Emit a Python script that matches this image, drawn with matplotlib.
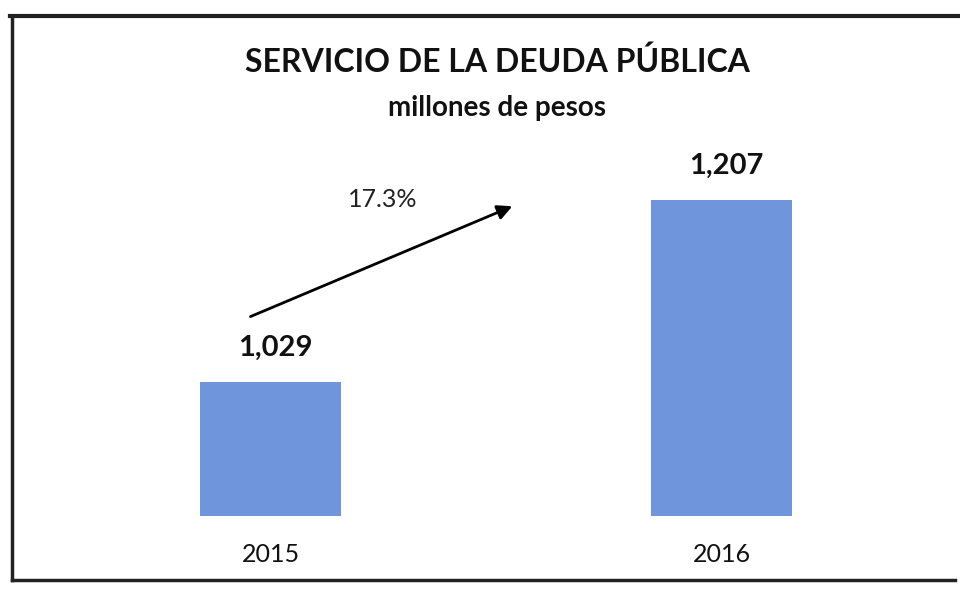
import matplotlib.pyplot as plt
from matplotlib.lines import Line2D

plt.rcParams['font.family'] = ['Lato', 'DejaVu Sans']

years = ["2015", "2016"]
values = [1029, 1207]
growth_label = "17.3%"

title = "SERVICIO DE LA DEUDA PÚBLICA"
subtitle = "millones de pesos"

bar_color = "#6f96dc"


def plot_chart():
    fig = plt.figure(figsize=(9.6, 5.94), dpi=100)

    # axes placed so bar centres land at 271 and 722 px, baseline at 516 px
    ax = fig.add_axes([100 / 960, 1 - 516 / 594, 800 / 960, (516 - 150) / 594])
    x = list(range(len(years)))
    ax.bar(x, values, width=0.313, color=bar_color)
    ax.set_xlim(-0.379, 1.395)
    ax.set_ylim(898, 1256)
    ax.axis("off")

    for xi, v in zip(x, values):
        ax.text(xi + 0.01, v + 21, f"{v:,}", ha="center", va="bottom",
                fontsize=21, fontweight="bold", color="#111111")
        ax.text(xi, 898 - 38, years[xi], ha="center", va="center",
                fontsize=18, color="#111111", clip_on=False)

    ax.annotate("", xy=(0.541, 1202), xytext=(-0.051, 1092),
                arrowprops=dict(arrowstyle="-|>", color="black", lw=2,
                                mutation_scale=22))
    ax.text(0.248, 1208, growth_label, ha="center", va="center",
            fontsize=18, color="#222222")

    fig.text(497 / 960, 1 - 62 / 594, title, ha="center", va="center",
             fontsize=23, fontweight="bold", color="#111111")
    fig.text(497 / 960, 1 - 108 / 594, subtitle, ha="center", va="center",
             fontsize=20, fontweight="bold", color="#111111")

    # scanned frame: top, left and bottom edges only
    edges = [
        ([10 / 960, 1.0], [1 - 16 / 594, 1 - 16 / 594], 3.0),
        ([12 / 960, 12 / 960], [1 - 16 / 594, 1 - 580 / 594], 2.5),
        ([12 / 960, 955 / 960], [1 - 580 / 594, 1 - 580 / 594], 2.5),
    ]
    for xs, ys, lw in edges:
        fig.lines.append(Line2D(xs, ys, transform=fig.transFigure,
                                color="#222222", lw=lw))

    fig.savefig("out.png", dpi=100)
    plt.close(fig)


if __name__ == "__main__":
    plot_chart()
